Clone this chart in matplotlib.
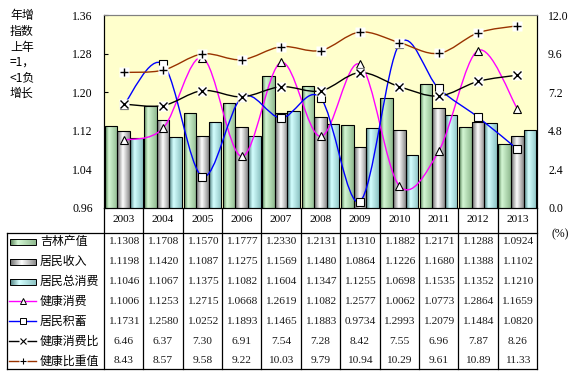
import numpy as np
import matplotlib
matplotlib.use("Agg")
import matplotlib.pyplot as plt
from matplotlib.path import Path
from matplotlib.patches import PathPatch
from matplotlib.colors import LinearSegmentedColormap

# 数据
years = ["2003", "2004", "2005", "2006", "2007", "2008", "2009", "2010", "2011", "2012", "2013"]
jilin_output = [1.1308, 1.1708, 1.1570, 1.1777, 1.2330, 1.2131, 1.1310, 1.1882, 1.2171, 1.1288, 1.0924]
resident_income = [1.1198, 1.1420, 1.1087, 1.1275, 1.1569, 1.1480, 1.0864, 1.1226, 1.1680, 1.1388, 1.1102]
resident_consumption = [1.1046, 1.1067, 1.1375, 1.1082, 1.1604, 1.1347, 1.1255, 1.0698, 1.1535, 1.1352, 1.1210]
health_consumption = [1.1006, 1.1253, 1.2715, 1.0668, 1.2619, 1.1082, 1.2577, 1.0062, 1.0773, 1.2864, 1.1659]
resident_savings = [1.1731, 1.2580, 1.0252, 1.1893, 1.1465, 1.1883, 0.9734, 1.2993, 1.2079, 1.1484, 1.0820]
health_ratio = [6.46, 6.37, 7.30, 6.91, 7.54, 7.28, 8.42, 7.55, 6.96, 7.87, 8.26]
health_weight = [8.43, 8.57, 9.58, 9.22, 10.03, 9.79, 10.94, 10.29, 9.61, 10.89, 11.33]

left_ticks = [0.96, 1.04, 1.12, 1.20, 1.28, 1.36]
right_ticks = [0.0, 2.4, 4.8, 7.2, 9.6, 12.0]
side_note = ["年增", "指数", "上年", "=1，", "<1负", "增长"]

CJK = ["Noto Sans CJK SC", "DejaVu Sans"]
SERIF = ["Liberation Serif", "DejaVu Serif"]

cm_green = LinearSegmentedColormap.from_list("g", [(0, "#557f55"), (0.3, "#d4f7d4"), (1, "#8fb98f")])
cm_gray = LinearSegmentedColormap.from_list("s", [(0, "#6a6a6a"), (0.45, "#ffffff"), (1, "#8a8a8a")])
cm_cyan = LinearSegmentedColormap.from_list("c", [(0, "#4f8080"), (0.35, "#d4ffff"), (1, "#8cc2c2")])


def smooth_path(xs, ys):
    # 类似 Excel 的平滑线 (Catmull-Rom -> Bezier)
    pts = np.column_stack([xs, ys]).astype(float)
    n = len(pts)
    verts = [pts[0]]
    codes = [Path.MOVETO]
    for i in range(n - 1):
        p0 = pts[i - 1] if i > 0 else pts[i]
        p1 = pts[i]
        p2 = pts[i + 1]
        p3 = pts[i + 2] if i + 2 < n else pts[i + 1]
        verts += [p1 + (p2 - p0) / 6, p2 - (p3 - p1) / 6, p2]
        codes += [Path.CURVE4] * 3
    return Path(verts, codes)


W, H = 577, 375
fig = plt.figure(figsize=(W / 100, H / 100), dpi=100)
fig.patch.set_facecolor("white")

L, R, T, B = 104, 537, 15, 208
ax = fig.add_axes([L / W, 1 - B / H, (R - L) / W, (B - T) / H])
ax.set_facecolor("#ffffcc")
ax2 = ax.twinx()

x = np.arange(len(years))
bw = 0.32
ymin, ymax = 0.96, 1.36
gradient = np.linspace(0, 1, 64).reshape(1, -1)

for off, vals, cmap in [(-bw, jilin_output, cm_green), (0, resident_income, cm_gray),
                        (bw, resident_consumption, cm_cyan)]:
    bars = ax.bar(x + off, vals, bw, facecolor="none", edgecolor="black", linewidth=0.8, zorder=3)
    for b in bars:
        x0 = b.get_x()
        im = ax.imshow(gradient, extent=[x0, x0 + bw, ymin, b.get_height()], aspect="auto",
                       cmap=cmap, zorder=2, interpolation="bilinear")
        im.set_clip_path(b)

for vals, col, mk, axis in [(health_consumption, "#ff00ff", "^", ax), (resident_savings, "#0000ff", "s", ax)]:
    axis.add_patch(PathPatch(smooth_path(x, vals), fill=False, edgecolor=col, lw=1.0, zorder=4))
    axis.plot(x, vals, ls="none", marker=mk, ms=5.5, mfc="white", mec="black", mew=0.8, zorder=5)

for vals, col, mk in [(health_ratio, "black", "x"), (health_weight, "#993300", "+")]:
    ax2.add_patch(PathPatch(smooth_path(x, vals), fill=False, edgecolor=col, lw=1.0, zorder=4))
    ax2.plot(x, vals, ls="none", marker="s", ms=7, mfc="white", mec="none", zorder=5)
    ax2.plot(x, vals, ls="none", marker=mk, ms=5.5, mec="black", mew=1.0, zorder=6)

ax.set_xlim(-0.5, len(years) - 0.5)
ax.set_ylim(ymin, ymax)
ax2.set_ylim(0, 12)
ax.set_xticks([])
ax.set_yticks(left_ticks)
ax.set_yticklabels([f"{v:.2f}" for v in left_ticks], family=SERIF, fontsize=8.5)
ax2.set_yticks(right_ticks)
ax2.set_yticklabels([f"{v:.1f}" for v in right_ticks], family=SERIF, fontsize=8.5)
ax.tick_params(axis="y", direction="in", length=3, pad=8)
ax2.tick_params(axis="y", direction="in", length=0, pad=8)
for s in ["top"]:
    ax.spines[s].set_color("#808080")
    ax2.spines[s].set_color("#808080")
for a in (ax, ax2):
    a.spines["left"].set_color("black")
    a.spines["right"].set_color("black")
    a.spines["bottom"].set_color("black")

# 表格部分 (像素坐标)
ov = fig.add_axes([0, 0, 1, 1], zorder=-1)
ov.set_xlim(0, W)
ov.set_ylim(H, 0)
ov.axis("off")

for i, t in enumerate(side_note):
    ov.text(10, 16 + i * 15.5, t, family=CJK, fontsize=8.6, va="center", ha="left")

tl, tt, tb = 7, 233, 369
cw = (R - L) / len(years)
lk = dict(color="black", lw=0.9)
ov.plot([tl, R], [tt, tt], **lk)
ov.plot([tl, R], [tb, tb], **lk)
ov.plot([tl, tl], [tt, tb], **lk)
for i in range(len(years) + 1):
    ov.plot([L + i * cw] * 2, [B, tb], **lk)
for i, y in enumerate(years):
    ov.text(L + (i + 0.5) * cw, 220, y, family=SERIF, fontsize=8.2, ha="center", va="center")

ov.text(560, 234, "(%)", family=SERIF, fontsize=8.5, ha="center", va="center")

rows = [("吉林产值", jilin_output, "bar", cm_green, None),
        ("居民收入", resident_income, "bar", cm_gray, None),
        ("居民总消费", resident_consumption, "bar", cm_cyan, None),
        ("健康消费", health_consumption, "^", None, "#ff00ff"),
        ("居民积蓄", resident_savings, "s", None, "#0000ff"),
        ("健康消费比", health_ratio, "x", None, "black"),
        ("健康比重值", health_weight, "+", None, "#993300")]
ry0, rdy = 242, 19.8
for r, (name, vals, kind, cmap, col) in enumerate(rows):
    yc = ry0 + r * rdy
    if kind == "bar":
        ov.imshow(gradient, extent=[10, 36, yc + 3, yc - 3], aspect="auto", cmap=cmap, zorder=2)
        ov.add_patch(plt.Rectangle((10, yc - 3), 26, 6, fill=False, ec="black", lw=0.7, zorder=3))
    else:
        ov.plot([9, 36], [yc, yc], color=col, lw=1.0)
        if kind in ("^", "s"):
            ov.plot(23, yc, marker=kind, ms=4, mfc="white", mec="black", mew=0.7)
        else:
            ov.plot(23, yc, marker="s", ms=6, mfc="white", mec="none")
            ov.plot(23, yc, marker=kind, ms=4, mec="black", mew=0.8)
    ov.text(40, yc, name, family=CJK, fontsize=8.6, ha="left", va="center")
    fmt = "{:.4f}" if r < 5 else "{:.2f}"
    for i, v in enumerate(vals):
        ov.text(L + (i + 0.5) * cw, yc, fmt.format(v), family=SERIF, fontsize=8.2,
                ha="center", va="center", color="#1a1a1a")

ov.set_xlim(0, W)
ov.set_ylim(H, 0)
fig.savefig("out.png", dpi=100)
